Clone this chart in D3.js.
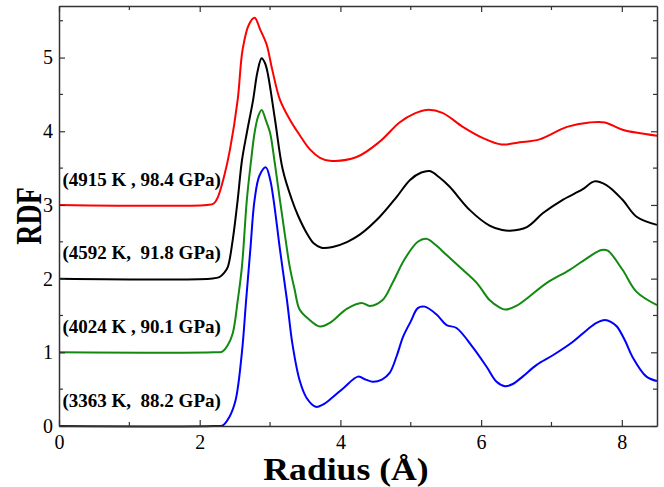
<!DOCTYPE html>
<html>
<head>
<meta charset="utf-8">
<script src="https://cdn.jsdelivr.net/npm/d3@7"></script>
<style>
  body { margin: 0; background: #fff; }
  text { font-family: "Liberation Serif", "Times New Roman", serif; }
</style>
</head>
<body>
<div id="chart"></div>
<script>
// Data: g(r) for each run, plotted with a vertical offset
const labels = ['(3363 K,  88.2 GPa)', '(4024 K , 90.1 GPa)', '(4592 K,  91.8 GPa)', '(4915 K , 98.4 GPa)'];
const offsets = [0, 1, 2, 3];
const colors = ['#0000ff', '#128a12', '#000000', '#ff0000'];

const blue = [[0,0],[2.2,0],[2.33,0.01],[2.42,0.12],[2.51,0.35],[2.6,1.0],[2.66,1.71],[2.72,2.4],[2.78,3.07],[2.85,3.4],[2.94,3.51],[3.0,3.35],[3.05,3.07],[3.14,2.4],[3.24,1.71],[3.32,1.1],[3.42,0.62],[3.52,0.38],[3.65,0.26],[3.75,0.29],[3.89,0.39],[4.05,0.52],[4.25,0.67],[4.36,0.63],[4.46,0.60],[4.59,0.63],[4.70,0.72],[4.80,0.95],[4.89,1.21],[5.0,1.42],[5.10,1.60],[5.20,1.62],[5.37,1.51],[5.51,1.37],[5.65,1.33],[5.88,1.07],[6.08,0.80],[6.22,0.60],[6.34,0.54],[6.45,0.57],[6.59,0.67],[6.79,0.83],[7.02,0.96],[7.30,1.14],[7.50,1.30],[7.64,1.40],[7.76,1.44],[7.85,1.41],[7.93,1.35],[8.05,1.15],[8.15,0.94],[8.35,0.67],[8.5,0.61]];
const green = [[0,0],[2.2,0],[2.32,0.01],[2.40,0.1],[2.47,0.26],[2.54,0.7],[2.60,1.16],[2.67,2.07],[2.73,2.6],[2.78,2.98],[2.83,3.2],[2.88,3.29],[2.94,3.15],[3.0,2.98],[3.07,2.55],[3.14,2.07],[3.21,1.6],[3.28,1.16],[3.35,0.85],[3.42,0.58],[3.55,0.45],[3.71,0.35],[3.85,0.40],[4.09,0.59],[4.30,0.67],[4.42,0.63],[4.60,0.71],[4.74,0.94],[4.91,1.26],[5.10,1.50],[5.22,1.54],[5.35,1.46],[5.51,1.32],[5.74,1.12],[5.94,0.94],[6.12,0.71],[6.26,0.61],[6.34,0.58],[6.50,0.63],[6.93,0.94],[7.26,1.12],[7.54,1.30],[7.71,1.39],[7.80,1.38],[8.01,1.12],[8.21,0.82],[8.5,0.64]];
const black = [[0,0],[2.15,0],[2.28,0.02],[2.35,0.08],[2.40,0.16],[2.47,0.53],[2.54,1.07],[2.60,1.6],[2.67,1.98],[2.76,2.43],[2.82,2.8],[2.88,2.99],[2.93,2.92],[2.97,2.77],[3.07,2.16],[3.18,1.48],[3.31,1.07],[3.40,0.85],[3.52,0.62],[3.62,0.48],[3.73,0.42],[3.89,0.43],[4.10,0.5],[4.28,0.6],[4.56,0.84],[4.80,1.11],[4.99,1.34],[5.15,1.44],[5.27,1.46],[5.40,1.38],[5.55,1.25],[5.84,0.93],[6.12,0.72],[6.30,0.66],[6.41,0.65],[6.65,0.70],[6.88,0.89],[7.16,1.07],[7.44,1.21],[7.61,1.32],[7.78,1.27],[8.01,1.07],[8.21,0.84],[8.5,0.73]];
const red = [[0,0],[2.1,0],[2.2,0.02],[2.26,0.11],[2.35,0.4],[2.43,0.75],[2.54,1.43],[2.61,2.11],[2.70,2.45],[2.78,2.54],[2.86,2.38],[2.95,2.18],[3.03,1.84],[3.14,1.43],[3.28,1.16],[3.42,0.95],[3.57,0.75],[3.71,0.64],[3.85,0.60],[4.23,0.65],[4.56,0.86],[4.84,1.12],[5.05,1.24],[5.23,1.29],[5.45,1.25],[5.74,1.06],[6.02,0.91],[6.29,0.82],[6.55,0.85],[6.83,0.89],[7.22,1.06],[7.54,1.12],[7.76,1.12],[8.01,1.02],[8.5,0.94]];
const series = [blue, green, black, red];

const xTicks = [0, 2, 4, 6, 8];
const xMinor = [1, 3, 5, 7];
const yTicks = [0, 1, 2, 3, 4, 5];
const yMinor = [0.5, 1.5, 2.5, 3.5, 4.5, 5.5];

const width = 664, height = 487;
const margin = { top: 6, right: 7, bottom: 61, left: 59 };
const w = width - margin.left - margin.right;
const h = height - margin.top - margin.bottom;

const svg = d3.select('#chart').append('svg')
  .attr('width', width).attr('height', height);
const g = svg.append('g').attr('transform', `translate(${margin.left},${margin.top})`);

const x = d3.scaleLinear().domain([0, 8.5]).range([0, w]);
const y = d3.scaleLinear().domain([0, 5.7]).range([h, 0]);

// curves
const line = d3.line()
  .x(d => x(d[0]))
  .y(d => y(d[1]))
  .curve(d3.curveCatmullRom.alpha(0.5));

series.forEach((s, i) => {
  g.append('path')
    .datum(s.map(d => [d[0], d[1] + offsets[i]]))
    .attr('d', line)
    .attr('fill', 'none')
    .attr('stroke', colors[i])
    .attr('stroke-width', 2);
});

// labels
labels.forEach((t, i) => {
  g.append('text')
    .attr('x', x(0.05))
    .attr('y', y(offsets[i] + 0.26))
    .attr('font-size', 19)
    .attr('font-weight', 'bold')
    .style('white-space', 'pre')
    .text(t);
});

// axes: inward ticks on all four sides
function styleAxis(sel) {
  sel.select('.domain').attr('stroke', '#333').attr('stroke-width', 1.5);
  sel.selectAll('.tick line').attr('stroke', '#333').attr('stroke-width', 1.2);
}

function minorTicks(sel, vals, horiz, len) {
  sel.append('g').selectAll('line').data(vals).join('line')
    .attr('x1', d => horiz ? x(d) : 0).attr('x2', d => horiz ? x(d) : len)
    .attr('y1', d => horiz ? 0 : y(d)).attr('y2', d => horiz ? len : y(d))
    .attr('stroke', '#333').attr('stroke-width', 1.2);
}

const xAxisBottom = g.append('g').attr('transform', `translate(0,${h})`)
  .call(d3.axisBottom(x).tickValues(xTicks).tickSizeInner(-6).tickSizeOuter(0).tickPadding(9).tickFormat(d3.format('d')));
xAxisBottom.attr('font-family', null);
xAxisBottom.selectAll('text').attr('font-size', 20).attr('fill', '#000');
styleAxis(xAxisBottom);
minorTicks(xAxisBottom, xMinor, true, -4);

const xAxisTop = g.append('g')
  .call(d3.axisTop(x).tickValues(xTicks).tickSizeInner(-6).tickSizeOuter(0).tickFormat(''));
styleAxis(xAxisTop);
minorTicks(xAxisTop, xMinor, true, 4);

const yAxisLeft = g.append('g')
  .call(d3.axisLeft(y).tickValues(yTicks).tickSizeInner(-6).tickSizeOuter(0).tickPadding(6).tickFormat(d3.format('d')));
yAxisLeft.attr('font-family', null);
yAxisLeft.selectAll('text').attr('font-size', 20).attr('fill', '#000');
styleAxis(yAxisLeft);
minorTicks(yAxisLeft, yMinor, false, 4);

const yAxisRight = g.append('g').attr('transform', `translate(${w},0)`)
  .call(d3.axisRight(y).tickValues(yTicks).tickSizeInner(-6).tickSizeOuter(0).tickFormat(''));
styleAxis(yAxisRight);
minorTicks(yAxisRight, yMinor, false, -4);

// axis titles (reference looks stretched horizontally)
svg.append('text')
  .attr('transform', `translate(${margin.left + w / 2 - 12},480) scale(1.15,1)`)
  .attr('text-anchor', 'middle')
  .attr('font-size', 31)
  .attr('font-weight', 'bold')
  .text('Radius (Å)');

svg.append('text')
  .attr('transform', `translate(41,${margin.top + h / 2}) scale(1.25,1) rotate(-90)`)
  .attr('text-anchor', 'middle')
  .attr('font-size', 28)
  .attr('font-weight', 'bold')
  .text('RDF');
</script>
</body>
</html>
